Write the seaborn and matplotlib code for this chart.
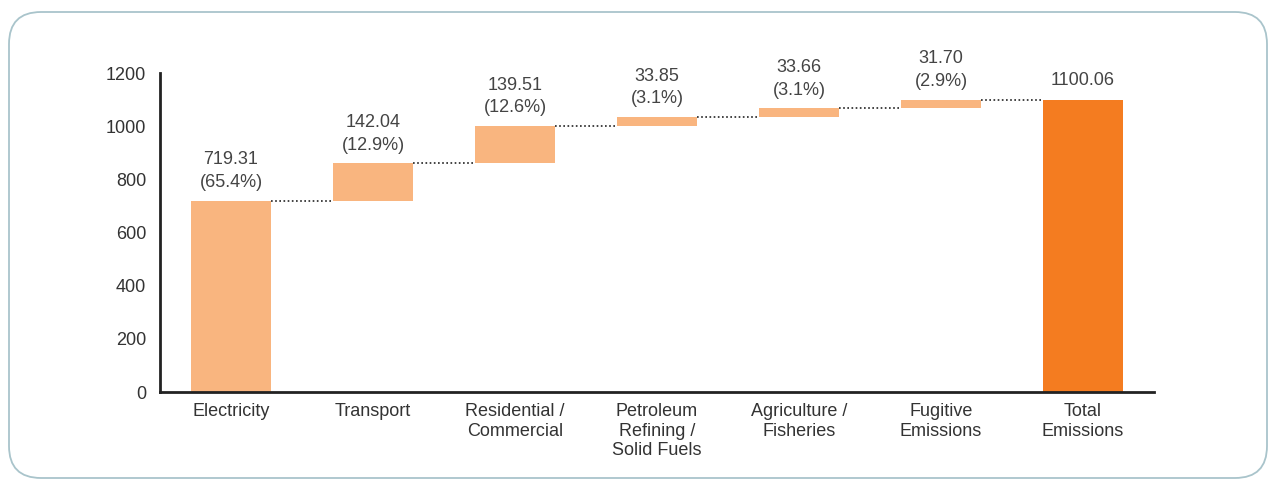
import matplotlib
matplotlib.use('Agg')
import matplotlib.pyplot as plt
from matplotlib.patches import FancyBboxPatch
import pandas as pd
import seaborn as sns
import numpy as np

categories = ['Electricity', 'Transport', 'Residential /\nCommercial',
              'Petroleum\nRefining /\nSolid Fuels', 'Agriculture /\nFisheries',
              'Fugitive\nEmissions', 'Total\nEmissions']
values = [719.31, 142.04, 139.51, 33.85, 33.66, 31.70]
shares = [65.4, 12.9, 12.6, 3.1, 3.1, 2.9]
total = 1100.06

sns.set_style('white')
plt.rcParams['font.family'] = ['Liberation Sans', 'DejaVu Sans']

# waterfall: running base for each step, total bar sits on zero
tops = np.cumsum(values)
bases = np.concatenate([[0], tops[:-1]])
df = pd.DataFrame({
    'cat': categories,
    'height': list(values) + [total],
    'base': list(bases) + [0],
})

fig = plt.figure(figsize=(12.76, 4.84), dpi=100)
# rounded frame, in inches
box = FancyBboxPatch((0.09, 0.06), 12.58, 4.66, boxstyle='round,pad=0,rounding_size=0.32',
                     transform=fig.dpi_scale_trans, facecolor='white', edgecolor='#a9c4cb',
                     linewidth=1.3, zorder=-10)
fig.patches.append(box)

ax = fig.add_axes([0.1254, 0.19, 0.779, 0.659])
ax.set_facecolor('none')
ax.set_zorder(5)
sns.barplot(data=df, x='cat', y='height', color='#F9B57F', bottom=df['base'].values,
            width=0.56, ax=ax, saturation=1, linewidth=0)
ax.patches[-1].set_facecolor('#F47C20')

# dotted connectors between steps
for i, lvl in enumerate(tops):
    ax.hlines(lvl, i + 0.28, i + 1 - 0.28, colors='#222222', linestyles=(0, (1, 1.5)), lw=1.2)

txt = dict(ha='center', va='bottom', fontsize=13, color='#444444', linespacing=1.45)
for i, (v, s) in enumerate(zip(values, shares)):
    ax.text(i, tops[i] + 36, f'{v:.2f}\n({s}%)', **txt)
ax.text(6, total + 40, f'{total:.2f}', **txt)

ax.set_xlim(-0.5, 6.5)
ax.set_ylim(0, 1200)
ax.set_yticks(np.arange(0, 1201, 200))
ax.set_xticks(np.arange(0.5, 6), minor=True)
ax.tick_params(axis='y', direction='in', length=22, width=2, color='#222222',
               labelsize=13, labelcolor='#333333', pad=10)
ax.tick_params(axis='x', which='major', length=0, labelsize=13, labelcolor='#333333', pad=8)
ax.tick_params(axis='x', which='minor', direction='in', length=7, width=1.5, color='#222222')
ax.set_xlabel('')
ax.set_ylabel('')
for side in ['top', 'right']:
    ax.spines[side].set_visible(False)
for side in ['left', 'bottom']:
    ax.spines[side].set_linewidth(2)
    ax.spines[side].set_color('#222222')

fig.savefig('out.png', dpi=100)
